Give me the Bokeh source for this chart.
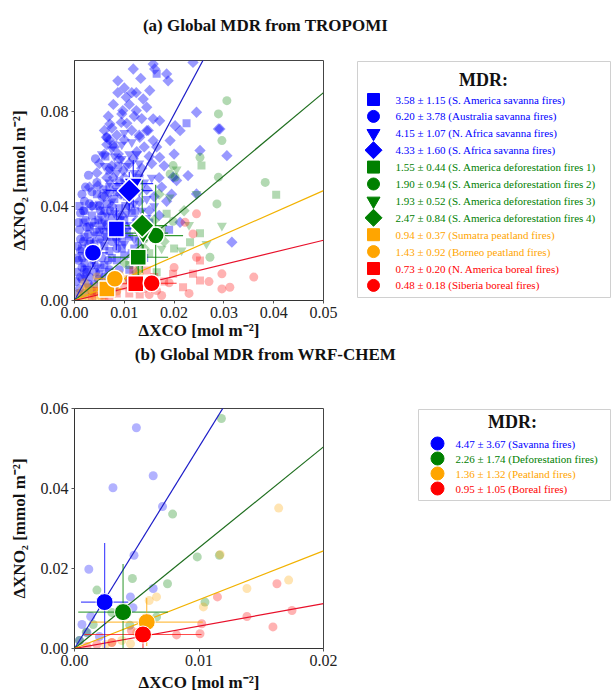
import numpy as np
from bokeh.plotting import figure
from bokeh.models import Range1d, FixedTicker, NumeralTickFormatter
from bokeh.layouts import column, row
from bokeh.embed import file_html
from bokeh.resources import INLINE
from bokeh.core.properties import value

FONT = "Liberation Serif"
BLUE, GREEN, ORANGE, RED = "#0000ff", "#008000", "#ffa500", "#ff0000"
LBLUE, LGREEN, LORANGE, LRED = "#1c1cc8", "#1e6e1e", "#f2b200", "#e8102a"

# ---------------- panel (a) data: TROPOMI ----------------
sa_sav_x = [0.0080, 0.0065, 0.0095, 0.0110, 0.0120, 0.0050, 0.0040, 0.0070, 0.0085, 0.0100, 0.0060, 0.0040,
            0.0030, 0.0020, 0.0075, 0.0090, 0.0060, 0.0105, 0.0045, 0.0080, 0.0130, 0.0140, 0.0110, 0.0050,
            0.0165, 0.0150, 0.0025, 0.0020, 0.0100, 0.0070, 0.0115, 0.0190, 0.0225, 0.0130,
            0.0035, 0.0045, 0.0055, 0.0065, 0.0085, 0.0095, 0.0105, 0.0075, 0.0060, 0.0030, 0.0020, 0.0115,
            0.0125, 0.0090, 0.0070,
            0.0015, 0.0028, 0.0042, 0.0052, 0.0068, 0.0082, 0.0092, 0.0102, 0.0112, 0.0072, 0.0048, 0.0038,
            0.0058, 0.0088, 0.0122, 0.0135, 0.0018, 0.0010, 0.0062, 0.0078]
sa_sav_y = [0.030, 0.027, 0.025, 0.027, 0.022, 0.030, 0.024, 0.021, 0.017, 0.019, 0.015, 0.017,
            0.031, 0.027, 0.035, 0.039, 0.038, 0.044, 0.045, 0.043, 0.025, 0.018, 0.013, 0.011,
            0.096, 0.033, 0.013, 0.038, 0.034, 0.048, 0.037, 0.030, 0.075, 0.052,
            0.036, 0.029, 0.033, 0.041, 0.046, 0.022, 0.028, 0.018, 0.023, 0.020, 0.016, 0.020,
            0.033, 0.050, 0.055,
            0.022, 0.024, 0.019, 0.014, 0.012, 0.027, 0.034, 0.040, 0.045, 0.031, 0.034, 0.040,
            0.047, 0.057, 0.038, 0.028, 0.033, 0.040, 0.061, 0.066]
au_sav_x = [0.0010, 0.0015, 0.0020, 0.0008, 0.0012, 0.0025, 0.0030, 0.0035, 0.0040, 0.0018, 0.0010, 0.0028,
            0.0045, 0.0050, 0.0055, 0.0060, 0.0005, 0.0022, 0.0040, 0.0012, 0.0030, 0.0065, 0.0070, 0.0080,
            0.0090, 0.0015, 0.0050, 0.0003, 0.0065, 0.0020, 0.0035, 0.0075, 0.0085, 0.0110, 0.0095,
            0.0012, 0.0025, 0.0020, 0.0008, 0.0035, 0.0045, 0.0028, 0.0042, 0.0058, 0.0015, 0.0005, 0.0068,
            0.0078,
            0.0006, 0.0016, 0.0024, 0.0032, 0.0038, 0.0048, 0.0052, 0.0062, 0.0022, 0.0028, 0.0042, 0.0012,
            0.0008, 0.0072, 0.0055, 0.0018]
au_sav_y = [0.005, 0.009, 0.013, 0.017, 0.021, 0.019, 0.010, 0.015, 0.007, 0.025, 0.030, 0.028,
            0.021, 0.026, 0.018, 0.010, 0.012, 0.034, 0.033, 0.037, 0.041, 0.032, 0.013, 0.009,
            0.013, 0.045, 0.040, 0.008, 0.069, 0.003, 0.004, 0.025, 0.022, 0.009, 0.030,
            0.026, 0.031, 0.042, 0.033, 0.046, 0.050, 0.007, 0.012, 0.005, 0.014, 0.018, 0.017,
            0.005,
            0.023, 0.018, 0.012, 0.025, 0.019, 0.009, 0.038, 0.028, 0.048, 0.053, 0.060, 0.010,
            0.003, 0.038, 0.044, 0.038]
na_sav_x = [0.0100, 0.0085, 0.0115, 0.0130, 0.0070, 0.0095, 0.0120, 0.0080, 0.0135, 0.0060, 0.0105, 0.0145,
            0.0070, 0.0055, 0.0090, 0.0125, 0.0155, 0.0110, 0.0045, 0.0025, 0.0160, 0.0035,
            0.0080, 0.0095, 0.0070, 0.0060, 0.0105, 0.0120, 0.0050, 0.0040, 0.0085, 0.0100, 0.0112,
            0.0130, 0.0140, 0.0020,
            0.0075, 0.0090, 0.0110, 0.0065, 0.0055, 0.0095, 0.0115, 0.0125, 0.0075, 0.0100, 0.0055, 0.0065,
            0.0085, 0.0120, 0.0035, 0.0145]
na_sav_y = [0.050, 0.054, 0.046, 0.058, 0.045, 0.045, 0.041, 0.037, 0.038, 0.033, 0.037, 0.043,
            0.029, 0.025, 0.028, 0.030, 0.052, 0.062, 0.014, 0.006, 0.040, 0.021,
            0.061, 0.066, 0.050, 0.057, 0.057, 0.054, 0.041, 0.028, 0.032, 0.024, 0.032,
            0.046, 0.050, 0.010,
            0.042, 0.036, 0.042, 0.036, 0.030, 0.060, 0.067, 0.062, 0.064, 0.071, 0.062, 0.046,
            0.025, 0.026, 0.032, 0.035]
saf_sav_x = [0.0158, 0.0161, 0.0238, 0.0185, 0.0188, 0.0087, 0.0087, 0.0124, 0.0151, 0.0104, 0.0138, 0.0097,
             0.0124, 0.0145, 0.0158, 0.0071, 0.0094, 0.0245, 0.0292, 0.0145, 0.0171, 0.0202, 0.0212, 0.0064,
             0.0131, 0.0158, 0.0192, 0.0306, 0.0252, 0.0171, 0.0228, 0.0205, 0.0047, 0.0071, 0.0289, 0.0316,
             0.0198, 0.0212, 0.0245, 0.0080, 0.0100, 0.0115, 0.0125, 0.0110, 0.0135, 0.0090, 0.0075, 0.0100,
             0.0120, 0.0145, 0.0160, 0.0085, 0.0065, 0.0130, 0.0150, 0.0170, 0.0110, 0.0095, 0.0125, 0.0140,
             0.0060, 0.0075, 0.0055, 0.0105, 0.0160, 0.0185, 0.0175, 0.0155, 0.0140, 0.0060, 0.0050, 0.0035,
             0.0030, 0.0180, 0.0195, 0.0200, 0.0120, 0.0110,
             0.0085, 0.0105, 0.0075, 0.0130, 0.0095, 0.0135, 0.0065, 0.0045, 0.0170, 0.0150,
             0.0088, 0.0078, 0.0098, 0.0118, 0.0108, 0.0128, 0.0092, 0.0070, 0.0060, 0.0115, 0.0078, 0.0068,
             0.0148, 0.0165, 0.0100, 0.0133, 0.0118]
saf_sav_y = [0.1001, 0.0980, 0.1008, 0.0959, 0.0930, 0.0930, 0.0880, 0.0880, 0.0889, 0.0860, 0.0853, 0.0804,
             0.0804, 0.0818, 0.0769, 0.0747, 0.0754, 0.0797, 0.0726, 0.0719, 0.0761, 0.0740, 0.0719, 0.0691,
             0.0691, 0.0677, 0.0677, 0.0613, 0.0635, 0.0606, 0.0529, 0.0508, 0.0486, 0.0557, 0.0726, 0.0247,
             0.0522, 0.0331, 0.0451, 0.0650, 0.0680, 0.0720, 0.0630, 0.0580, 0.0560, 0.0600, 0.0570, 0.0520,
             0.0490, 0.0470, 0.0440, 0.0480, 0.0520, 0.0420, 0.0380, 0.0360, 0.0400, 0.0360, 0.0340, 0.0300,
             0.0440, 0.0400, 0.0360, 0.0310, 0.0280, 0.0420, 0.0480, 0.0580, 0.0650, 0.0620, 0.0580, 0.0400,
             0.0480, 0.0570, 0.0450, 0.0620, 0.0780, 0.0830,
             0.0700, 0.0750, 0.0730, 0.0700, 0.0790, 0.0770, 0.0660, 0.0540, 0.0520, 0.0610,
             0.0620, 0.0520, 0.0550, 0.0600, 0.0490, 0.0530, 0.0450, 0.0680, 0.0720, 0.0880, 0.0830, 0.0780,
             0.0720, 0.0650, 0.0900, 0.0940, 0.0980]
def1_x = [0.0255, 0.0405, 0.0252, 0.0232, 0.0185, 0.0150, 0.0110, 0.0085, 0.0165, 0.0200]
def1_y = [0.0571, 0.0448, 0.0285, 0.0247, 0.0367, 0.0200, 0.0150, 0.0100, 0.0120, 0.0220]
def2_x = [0.0306, 0.0289, 0.0296, 0.0252, 0.0198, 0.0383, 0.0286, 0.0289, 0.0272, 0.0202, 0.0192, 0.0198,
          0.0140, 0.0120, 0.0175]
def2_y = [0.0846, 0.0790, 0.0677, 0.0606, 0.0571, 0.0500, 0.0409, 0.0522, 0.0183, 0.0522, 0.0536, 0.0335,
          0.0260, 0.0170, 0.0300]
def3_x = [0.0245, 0.0296, 0.0265, 0.0215, 0.0191, 0.0205, 0.0175, 0.0130, 0.0230]
def3_y = [0.0451, 0.0317, 0.0240, 0.0212, 0.0437, 0.0555, 0.0220, 0.0140, 0.0320]
def4_x = [0.0160, 0.0180, 0.0140, 0.0100, 0.0070, 0.0125, 0.0220, 0.0170]
def4_y = [0.0340, 0.0250, 0.0220, 0.0160, 0.0090, 0.0120, 0.0380, 0.0450]
sum_x = [0.0020, 0.0035, 0.0050, 0.0060, 0.0045, 0.0028, 0.0075, 0.0015, 0.0010, 0.0030, 0.0040, 0.0055, 0.0025]
sum_y = [0.0020, 0.0030, 0.0020, 0.0040, 0.0060, 0.0040, 0.0030, 0.0010, 0.0030, 0.0010, 0.0045, 0.0015, 0.0055]
bor_x = [0.0030, 0.0055, 0.0070, 0.0090, 0.0105, 0.0040, 0.0130, 0.0085, 0.0015, 0.0060, 0.0020, 0.0075, 0.0045]
bor_y = [0.0050, 0.0080, 0.0060, 0.0110, 0.0090, 0.0020, 0.0115, 0.0040, 0.0040, 0.0025, 0.0075, 0.0080, 0.0100]
nab_x = [0.0252, 0.0198, 0.0238, 0.0252, 0.0218, 0.0145, 0.0118, 0.0085, 0.0131, 0.0160, 0.0100, 0.0180, 0.0060,
         0.0035, 0.0045, 0.0070, 0.0110]
nab_y = [0.0169, 0.0113, 0.0113, 0.0085, 0.0056, 0.0127, 0.0127, 0.0030, 0.0025, 0.0100, 0.0060, 0.0080, 0.0020,
         0.0015, 0.0040, 0.0010, 0.0030]
sib_x = [0.0245, 0.0222, 0.0238, 0.0245, 0.0296, 0.0312, 0.0360, 0.0296, 0.0175, 0.0165, 0.0200, 0.0190,
         0.0140, 0.0110, 0.0270, 0.0230, 0.0080, 0.0125, 0.0150]
sib_y = [0.0367, 0.0331, 0.0282, 0.0183, 0.0113, 0.0056, 0.0099, 0.0049, 0.0021, 0.0042, 0.0140, 0.0075,
         0.0050, 0.0090, 0.0080, 0.0030, 0.0060, 0.0050, 0.0025]

mdr_a_labels = ["3.58 \u00b1 1.15 (S. America savanna fires)",
                "6.20 \u00b1 3.78 (Australia savanna fires)",
                "4.15 \u00b1 1.07 (N. Africa savanna fires)",
                "4.33 \u00b1 1.60 (S. Africa savanna fires)",
                "1.55 \u00b1 0.44 (S. America deforestation fires 1)",
                "1.90 \u00b1 0.94 (S. America deforestation fires 2)",
                "1.93 \u00b1 0.52 (S. America deforestation fires 3)",
                "2.47 \u00b1 0.84 (S. America deforestation fires 4)",
                "0.94 \u00b1 0.37 (Sumatra peatland fires)",
                "1.43 \u00b1 0.92 (Borneo peatland fires)",
                "0.73 \u00b1 0.20 (N. America boreal fires)",
                "0.48 \u00b1 0.18 (Siberia boreal fires)"]
mean_a_x = [0.0084, 0.0037, 0.0118, 0.0110, 0.0128, 0.0163, 0.0138, 0.0136, 0.0065, 0.0081, 0.0123, 0.0155]
mean_a_y = [0.0303, 0.0202, 0.0495, 0.0465, 0.0183, 0.0275, 0.0285, 0.0317, 0.0049, 0.0092, 0.0071, 0.0073]
err_a_x = [0.0030, 0.0030, 0.0040, 0.0047, 0.0060, 0.0055, 0.0050, 0.0050, 0.0030, 0.0040, 0.0040, 0.0050]
err_a_y = [0.0090, 0.0060, 0.0100, 0.0080, 0.0080, 0.0215, 0.0100, 0.0200, 0.0030, 0.0040, 0.0030, 0.0040]
colors_a = [BLUE] * 4 + [GREEN] * 4 + [ORANGE] * 2 + [RED] * 2
markers_a = ["square", "circle", "inverted_triangle", "square"] * 2 + ["square", "circle"] * 2
angles_a = [0, 0, 0, np.pi / 4] * 2 + [0, 0, 0, 0]
sizes_big_a = [16, 17, 19, 17] * 2 + [16, 17, 16, 17]
sizes_leg_a = [12, 12, 13, 12] * 2 + [12, 12, 12, 12]
slopes_a = [3.94, 1.76, 0.93, 0.51]
line_colors = [LBLUE, LGREEN, LORANGE, LRED]

# ---------------- panel (b) data: WRF-CHEM ----------------
wsav_x = [0.00497, 0.00632, 0.00309, 0.00707, 0.00478, 0.00115, 0.00632, 0.00449, 0.00470, 0.0006, 0.0010, 0.0004, 0.0013, 0.0020]
wsav_y = [0.0552, 0.0432, 0.0402, 0.0355, 0.0233, 0.0198, 0.0150, 0.0129, 0.0102, 0.0060, 0.0040, 0.0020, 0.0080, 0.0030]
wdef_x = [0.0118, 0.00788, 0.01164, 0.00986, 0.00465, 0.00747, 0.0018, 0.01048, 0.00659, 0.00444, 0.00094, 0.0004, 0.0030, 0.0015]
wdef_y = [0.0575, 0.0336, 0.0233, 0.0229, 0.0175, 0.0162, 0.0146, 0.0116, 0.0079, 0.0058, 0.0041, 0.0020, 0.0090, 0.0060]
wpeat_x = [0.0164, 0.0117, 0.0172, 0.01385, 0.01035, 0.00659, 0.0030, 0.0038, 0.0045, 0.0025, 0.0060, 0.0050]
wpeat_y = [0.0351, 0.0235, 0.0171, 0.0150, 0.0104, 0.0129, 0.0015, 0.0020, 0.0012, 0.0010, 0.0120, 0.0040]
wbor_x = [0.01626, 0.01747, 0.01594, 0.01385, 0.01148, 0.01022, 0.01008, 0.0082, 0.00457, 0.0030, 0.0018, 0.0010]
wbor_y = [0.0162, 0.0095, 0.0054, 0.0080, 0.0129, 0.0062, 0.0037, 0.0034, 0.0045, 0.0015, 0.0010, 0.0005]

mdr_b_labels = ["4.47 \u00b1 3.67 (Savanna fires)",
                "2.26 \u00b1 1.74 (Deforestation fires)",
                "1.36 \u00b1 1.32 (Peatland fires)",
                "0.95 \u00b1 1.05 (Boreal fires)"]
mean_b_x = [0.00242, 0.0039, 0.0058, 0.0055]
mean_b_y = [0.0116, 0.0091, 0.0066, 0.0035]
err_b_x = [0.0019, 0.0036, 0.0045, 0.0047]
err_b_y = [0.0148, 0.0120, 0.0060, 0.0040]
colors_b = [BLUE, GREEN, ORANGE, RED]
slopes_b = [5.04, 2.52, 1.22, 0.56]

x_ticks_a = [0.0, 0.01, 0.02, 0.03, 0.04, 0.05]
y_ticks_a = [0.0, 0.04, 0.08]
x_ticks_b = [0.0, 0.01, 0.02]
y_ticks_b = [0.0, 0.02, 0.04, 0.06]


def blank(p):
    p.outline_line_color = None
    p.xgrid.visible = False
    p.ygrid.visible = False


def style_axes(p, xt, yt, xstand):
    p.xgrid.visible = False
    p.ygrid.visible = False
    p.xaxis.ticker = FixedTicker(ticks=xt)
    p.yaxis.ticker = FixedTicker(ticks=yt)
    for ax in (p.xaxis[0], p.yaxis[0]):
        ax.formatter = NumeralTickFormatter(format="0.00")
        ax.major_label_text_font = FONT
        ax.major_label_text_font_size = "16px"
        ax.major_label_text_color = "#222222"
        ax.axis_label_text_font = FONT
        ax.axis_label_text_font_style = "bold"
        ax.axis_label_text_font_size = "17px"
        ax.axis_label_text_color = "#111111"
        ax.minor_tick_line_color = None
        ax.major_tick_in = 0
        ax.major_tick_out = 3
        ax.major_tick_line_color = "#555555"
        ax.axis_line_color = "#333333"
        ax.major_label_standoff = 3
    p.xaxis[0].axis_label = "\u0394XCO [mol m\u207b\u00b2]"
    p.yaxis[0].axis_label = "\u0394XNO\u2082 [mmol m\u207b\u00b2]"
    p.xaxis[0].axis_label_standoff = xstand
    p.yaxis[0].axis_label_standoff = 9
    p.outline_line_color = "#444444"


def title_fig(y_top, y_bot, ty, text):
    t = figure(width=612, height=y_bot - y_top, x_range=Range1d(0, 612), y_range=Range1d(y_bot, y_top),
               x_axis_type=None, y_axis_type=None, min_border=0,
               output_backend="svg", toolbar_location=None)
    blank(t)
    t.text(x=[265], y=[ty], text=[text], text_font=value(FONT), text_font_style="bold",
           text_font_size="17px", text_align="center", text_baseline="middle", text_color="#111111")
    return t


def legend_fig(height, btop, bbot, frame_top, frame_bot, box, title_xy, y0, dy, mx, tx,
               labels, colors, markers, angles, sizes, fs):
    # coordinates are page pixels; frame borders mirror the neighbouring plot
    f = figure(width=272, height=height, x_range=Range1d(340, 612), y_range=Range1d(frame_bot, frame_top),
               x_axis_type=None, y_axis_type=None, min_border_left=0, min_border_right=0,
               min_border_top=btop, min_border_bottom=bbot,
               output_backend="svg", toolbar_location=None)
    blank(f)
    f.quad(left=[box[0]], right=[box[1]], top=[box[2]], bottom=[box[3]],
           fill_color="white", line_color="#d0d0d0", line_width=1)
    f.text(x=[title_xy[0]], y=[title_xy[1]], text=["MDR:"], text_font=value(FONT),
           text_font_style="bold", text_font_size="18px", text_align="center",
           text_baseline="middle", text_color="#111111")
    ys = [y0 + i * dy for i in range(len(labels))]
    f.scatter(x=[mx] * len(labels), y=ys, marker=markers, angle=angles, size=sizes,
              fill_color=colors, line_color=colors)
    f.text(x=[tx] * len(labels), y=ys, text=labels, text_color=colors, text_font=value(FONT),
           text_font_size=fs, text_baseline="middle")
    return f


# ---------------- panel (a): page y 40..344, frame 60..300 ----------------
pa = figure(width=340, height=304, x_range=Range1d(0, 0.05), y_range=Range1d(0, 0.1016),
            min_border_left=74, min_border_right=17, min_border_top=20, min_border_bottom=44,
            output_backend="svg", toolbar_location=None)
style_axes(pa, x_ticks_a, y_ticks_a, 0)

fa = dict(line_color=None)
pa.scatter(sa_sav_x, sa_sav_y, marker="square", size=8, fill_color=BLUE, fill_alpha=0.4, **fa)
pa.scatter(au_sav_x, au_sav_y, marker="circle", size=9, fill_color=BLUE, fill_alpha=0.4, **fa)
pa.scatter(na_sav_x, na_sav_y, marker="inverted_triangle", size=10, fill_color=BLUE, fill_alpha=0.4, **fa)
pa.scatter(saf_sav_x, saf_sav_y, marker="square", angle=np.pi / 4, size=8, fill_color=BLUE, fill_alpha=0.4, **fa)
pa.scatter(def1_x, def1_y, marker="square", size=8, fill_color=GREEN, fill_alpha=0.3, **fa)
pa.scatter(def2_x, def2_y, marker="circle", size=9, fill_color=GREEN, fill_alpha=0.3, **fa)
pa.scatter(def3_x, def3_y, marker="inverted_triangle", size=10, fill_color=GREEN, fill_alpha=0.3, **fa)
pa.scatter(def4_x, def4_y, marker="square", angle=np.pi / 4, size=8, fill_color=GREEN, fill_alpha=0.3, **fa)
pa.scatter(sum_x, sum_y, marker="square", size=8, fill_color=ORANGE, fill_alpha=0.35, **fa)
pa.scatter(bor_x, bor_y, marker="circle", size=9, fill_color=ORANGE, fill_alpha=0.35, **fa)
pa.scatter(nab_x, nab_y, marker="square", size=8, fill_color=RED, fill_alpha=0.3, **fa)
pa.scatter(sib_x, sib_y, marker="circle", size=9, fill_color=RED, fill_alpha=0.3, **fa)

xmax_a = pa.x_range.end
for s, c in zip(slopes_a, line_colors):
    pa.line([0, xmax_a], [0, s * xmax_a], line_color=c, line_width=1.2)

mxa, mya = np.array(mean_a_x), np.array(mean_a_y)
exa, eya = np.array(err_a_x), np.array(err_a_y)
pa.segment(x0=mxa - exa, y0=mya, x1=mxa + exa, y1=mya, line_color=colors_a, line_width=1.2, line_alpha=0.8)
pa.segment(x0=mxa, y0=mya - eya, x1=mxa, y1=mya + eya, line_color=colors_a, line_width=1.2, line_alpha=0.8)
pa.scatter(mean_a_x, mean_a_y, marker=markers_a, angle=angles_a, size=sizes_big_a,
           fill_color=colors_a, line_color="white", line_width=1.5)

la = legend_fig(304, 20, 44, 60, 300, (357, 610, 61, 297), (483, 79), 99, 16.9, 373, 395,
                mdr_a_labels, colors_a, markers_a, angles_a, sizes_leg_a, "11px")

# ---------------- panel (b): page y 380..694, frame 408..648 ----------------
pb = figure(width=340, height=314, x_range=Range1d(0, 0.02), y_range=Range1d(0, 0.06),
            min_border_left=74, min_border_right=17, min_border_top=28, min_border_bottom=46,
            output_backend="svg", toolbar_location=None)
style_axes(pb, x_ticks_b, y_ticks_b, 4)

pb.scatter(wsav_x, wsav_y, marker="circle", size=9, fill_color=BLUE, fill_alpha=0.3, line_color=None)
pb.scatter(wdef_x, wdef_y, marker="circle", size=9, fill_color=GREEN, fill_alpha=0.3, line_color=None)
pb.scatter(wpeat_x, wpeat_y, marker="circle", size=9, fill_color=ORANGE, fill_alpha=0.3, line_color=None)
pb.scatter(wbor_x, wbor_y, marker="circle", size=9, fill_color=RED, fill_alpha=0.3, line_color=None)

xmax_b = pb.x_range.end
for s, c in zip(slopes_b, line_colors):
    pb.line([0, xmax_b], [0, s * xmax_b], line_color=c, line_width=1.2)

mxb, myb = np.array(mean_b_x), np.array(mean_b_y)
exb, eyb = np.array(err_b_x), np.array(err_b_y)
pb.segment(x0=mxb - exb, y0=myb, x1=mxb + exb, y1=myb, line_color=colors_b, line_width=1.2, line_alpha=0.7)
pb.segment(x0=mxb, y0=myb - eyb, x1=mxb, y1=myb + eyb, line_color=colors_b, line_width=1.2, line_alpha=0.7)
pb.scatter(mean_b_x, mean_b_y, marker="circle", size=17, fill_color=colors_b, line_color="white", line_width=1)

lb = legend_fig(314, 28, 46, 408, 648, (418, 610, 409, 500), (512, 421), 443, 15, 437, 455,
                mdr_b_labels, colors_b, ["circle"] * 4, [0] * 4, [13] * 4, "11px")

ta = title_fig(0, 40, 25, "(a) Global MDR from TROPOMI")
tb = title_fig(344, 380, 354, "(b) Global MDR from WRF-CHEM")

layout = column(ta, row(pa, la, spacing=0), tb, row(pb, lb, spacing=0), spacing=0)
open("out.html", "w").write(file_html(layout, INLINE))
